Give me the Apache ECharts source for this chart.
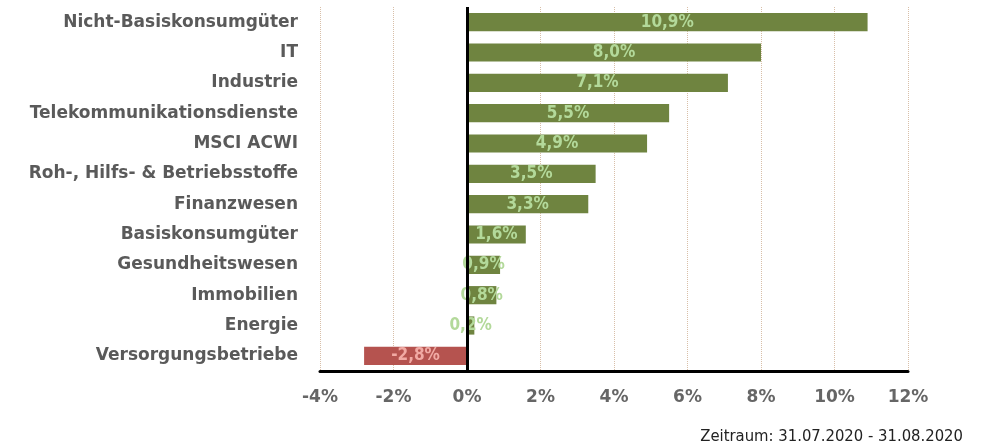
<!DOCTYPE html>
<html>
<head>
<meta charset="utf-8">
<script src="https://cdn.jsdelivr.net/npm/echarts@6/dist/echarts.min.js"></script>
<style>
  html, body { margin: 0; padding: 0; background: #fff; }
  #chart { width: 983px; height: 445px; }
</style>
</head>
<body>
<div id="chart"></div>
<script>
const categories = [
  'Nicht-Basiskonsumgüter', 'IT', 'Industrie', 'Telekommunikationsdienste',
  'MSCI ACWI', 'Roh-, Hilfs- & Betriebsstoffe', 'Finanzwesen', 'Basiskonsumgüter',
  'Gesundheitswesen', 'Immobilien', 'Energie', 'Versorgungsbetriebe'
]
const performance = [10.9, 8.0, 7.1, 5.5, 4.9, 3.5, 3.3, 1.6, 0.9, 0.8, 0.2, -2.8]
const periodText = 'Zeitraum: 31.07.2020 - 31.08.2020'

const chart = echarts.init(document.getElementById('chart'))

const fmt = v => v.toFixed(1).replace('.', ',') + '%'

chart.setOption({
  animation: false,
  grid: { left: 320, right: 75, top: 7, bottom: 74 },
  xAxis: {
    type: 'value',
    min: -4,
    max: 12,
    interval: 2,
    axisLine: { show: true, onZero: false, lineStyle: { color: '#000', width: 3 } },
    axisTick: { show: false },
    axisLabel: {
      margin: 18,
      formatter: '{value}%',
      color: '#666',
      fontSize: 17,
      fontWeight: 'bold',
      fontFamily: 'DejaVu Sans, sans-serif'
    },
    splitLine: { show: true, lineStyle: { color: '#d8bfa8', type: 'dotted', width: 1 } }
  },
  yAxis: {
    type: 'category',
    inverse: true,
    data: categories,
    axisLine: { show: false },
    axisTick: { show: false },
    axisLabel: {
      margin: 22,
      color: '#5a5a5a',
      fontSize: 17,
      fontWeight: 'bold',
      fontFamily: 'DejaVu Sans, sans-serif'
    }
  },
  series: [{
    type: 'bar',
    barCategoryGap: '40%',
    data: performance.map(v => ({
      value: v,
      itemStyle: { color: v < 0 ? '#b5534f' : '#6f8440' },
      label: { color: v < 0 ? '#f1aaa4' : '#b3d99a' }
    })),
    label: {
      show: true,
      position: 'inside',
      formatter: p => fmt(p.value),
      fontSize: 17,
      fontWeight: 'bold',
      fontFamily: 'DejaVu Sans Condensed, sans-serif'
    },
    markLine: {
      silent: true,
      symbol: 'none',
      label: { show: false },
      lineStyle: { color: '#000', width: 3, type: 'solid' },
      data: [{ xAxis: 0 }]
    }
  }],
  graphic: [{
    type: 'text',
    right: 20,
    bottom: 0,
    style: {
      text: periodText,
      fill: '#222',
      fontSize: 16.5,
      fontFamily: 'DejaVu Sans Condensed, sans-serif'
    }
  }]
})
</script>
</body>
</html>
